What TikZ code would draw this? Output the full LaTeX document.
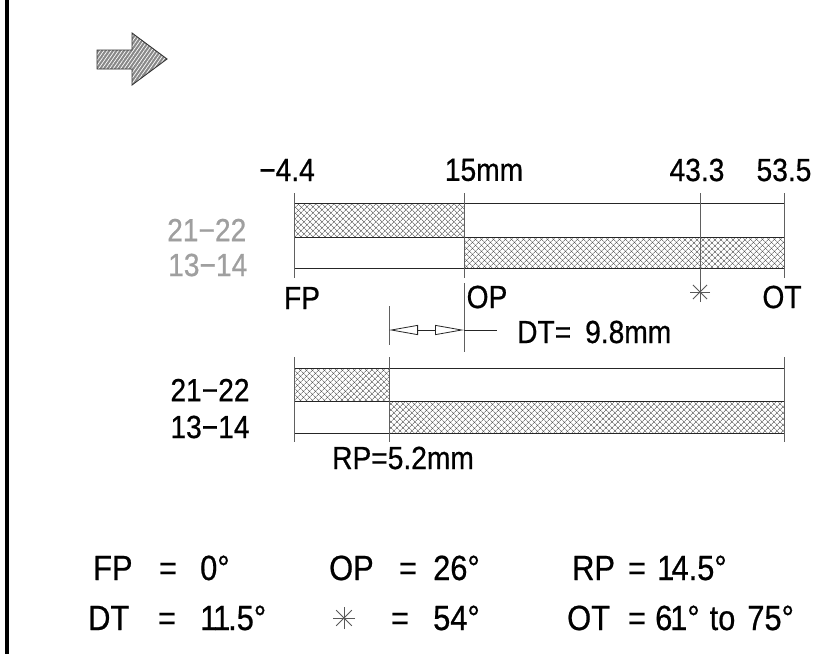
\documentclass[tikz,border=0pt]{standalone}
\usepackage{fontspec}
\setmainfont[FakeStretch=0.88, FakeBold=0.6]{Liberation Sans}
\usetikzlibrary{arrows.meta, patterns.meta, positioning}

\begin{document}
\begin{tikzpicture}[x=1pt, y=-1pt,
			% Define styles
			tickline/.style={draw=gray!75!black, line width=0.9pt},
			barline/.style={draw=black!85, line width=0.8pt},
			xhatch/.style={pattern={Lines[angle=#1, distance=4pt, line width=0.55pt]}, pattern color=gray!55!black},
			starline/.style={draw=gray!70!black, line width=0.8pt},
			dimarrow/.style={{Triangle[open, length=29pt, width=10pt]}-{Triangle[open, length=29pt, width=10pt]}, draw=black!85, line width=0.8pt},
			lbl/.style={font=\fontsize{32}{34}\selectfont, inner sep=0pt},
			greylbl/.style={lbl, text=gray!75},
			legend/.style={font=\fontsize{35}{38}\selectfont, inner sep=0pt, anchor=base west},
			eqsign/.style={font=\fontsize{35}{38}\selectfont, inner sep=0pt, anchor=base}
			]
			
			% Page frame
			\useasboundingbox (0,0) rectangle (826,654);
			\clip (0,0) rectangle (826,654);
			\fill[white] (0,0) rectangle (826,654);
			\draw[line width=4pt, black] (7,0) -- (7,654);
			
			% Hatched arrow
			\fill[gray!45!black!60] (97,50) -- (132,50) -- (132,33) -- (167,59) -- (132,85) -- (132,69) -- (97,69) -- cycle;
			\fill[pattern={Lines[angle=55, distance=3pt, line width=0.7pt]}, pattern color=white] (97,50) -- (132,50) -- (132,33) -- (167,59) -- (132,85) -- (132,69) -- (97,69) -- cycle;
			\draw[black!80, line width=0.9pt] (97,50) -- (132,50) -- (132,33) -- (167,59) -- (132,85) -- (132,69) -- (97,69) -- cycle;
			
			% Upper bar: hatched blocks
			\foreach \a in {45,-45} {
				\fill[xhatch=\a] (294,203) rectangle (464,237);
				\fill[xhatch=\a] (464,237) rectangle (784,268);
			}
			\draw[barline] (294,203) -- (784,203);
			\draw[barline] (294,237) -- (784,237);
			\draw[barline] (294,268) -- (784,268);
			\draw[barline] (464,203) -- (464,268);
			
			% Upper bar: ticks
			\foreach \x in {294,464,784} \draw[tickline] (\x,193) -- (\x,278);
			\draw[tickline] (700,193) -- (700,292);
			\coordinate (star1) at (700,292);
			\foreach \a in {0,45,90,135} \draw[starline] (star1) ++(\a:10) -- ++(\a+180:20);
			
			% Upper bar: labels
			\node[lbl] (lfp) at (287,170) {−4.4};
			\node[lbl] (lop) at (484,170) {15mm};
			\node[lbl] (lst) at (697,170) {43.3};
			\node[lbl] (lot) at (784,170) {53.5};
			\node[greylbl, anchor=west] (up1) at (167,230) {21−22};
			\node[greylbl, anchor=west] (up2) at (168,265) {13−14};
			\node[lbl] (fp) at (302,298) {FP};
			\node[lbl] (op) at (487,297) {OP};
			\node[lbl] (ot) at (782,297) {OT};
			
			% Dimension DT
			\draw[tickline] (389,306) -- (389,345);
			\draw[tickline] (464,283) -- (464,352);
			\coordinate (dtl) at (389,330);
			\coordinate (dtr) at (464,330);
			\coordinate (dte) at (497,330);
			\draw[dimarrow] (dtl) -- (dtr);
			\draw[barline] (dtr) -- (dte);
			\node[lbl, anchor=west] (dt) at (517,332) {DT=\hspace{14pt}9.8mm};
			
			% Lower bar: hatched blocks
			\foreach \a in {45,-45} {
				\fill[xhatch=\a] (294,368) rectangle (389,401);
				\fill[xhatch=\a] (389,401) rectangle (784,433);
			}
			\draw[barline] (294,368) -- (784,368);
			\draw[barline] (294,401) -- (784,401);
			\draw[barline] (294,433) -- (784,433);
			\draw[barline] (389,368) -- (389,433);
			\foreach \x in {294,389,784} \draw[tickline] (\x,357) -- (\x,442);
			
			% Lower bar: labels
			\node[lbl] (lo1) at (210,390) {21−22};
			\node[lbl] (lo2) at (210,427) {13−14};
			\node[lbl, anchor=west] (rp) at (332,458) {RP=5.2mm};
			
			% Legend, first row
			\node[legend] (legfp) at (93,580) {FP};
			\node[eqsign] (eqfp) at (168,580) {=};
			\node[legend] (valfp) at (200,580) {0°};
			\node[legend] (legop) at (329,580) {OP};
			\node[eqsign] (eqop) at (408,580) {=};
			\node[legend] (valop) at (433,580) {26°};
			\node[legend] (legrp) at (572,580) {RP};
			\node[eqsign] (eqrp) at (637,580) {=};
			\node[legend] (valrp) at (657,580) {1\kern-.08em4.5°};
			
			% Legend, second row
			\node[legend] (legdt) at (88,630) {DT};
			\node[eqsign] (eqdt) at (167,630) {=};
			\node[legend] (valdt) at (200,630) {1\kern-.12em1\kern-.06em.5°};
			\coordinate (star2) at (344,618);
			\foreach \a in {0,45,90,135} \draw[starline] (star2) ++(\a:11) -- ++(\a+180:22);
			\node[eqsign] (eqst) at (400,630) {=};
			\node[legend] (valst) at (433,630) {54°};
			\node[legend] (legot) at (567,630) {OT};
			\node[eqsign] (eqot) at (637,630) {=};
			\node[legend] (valot) at (655,630) {6\kern-.06em1°\hspace{10pt}to\hspace{12pt}75°};
			
		\end{tikzpicture}
\end{document}
